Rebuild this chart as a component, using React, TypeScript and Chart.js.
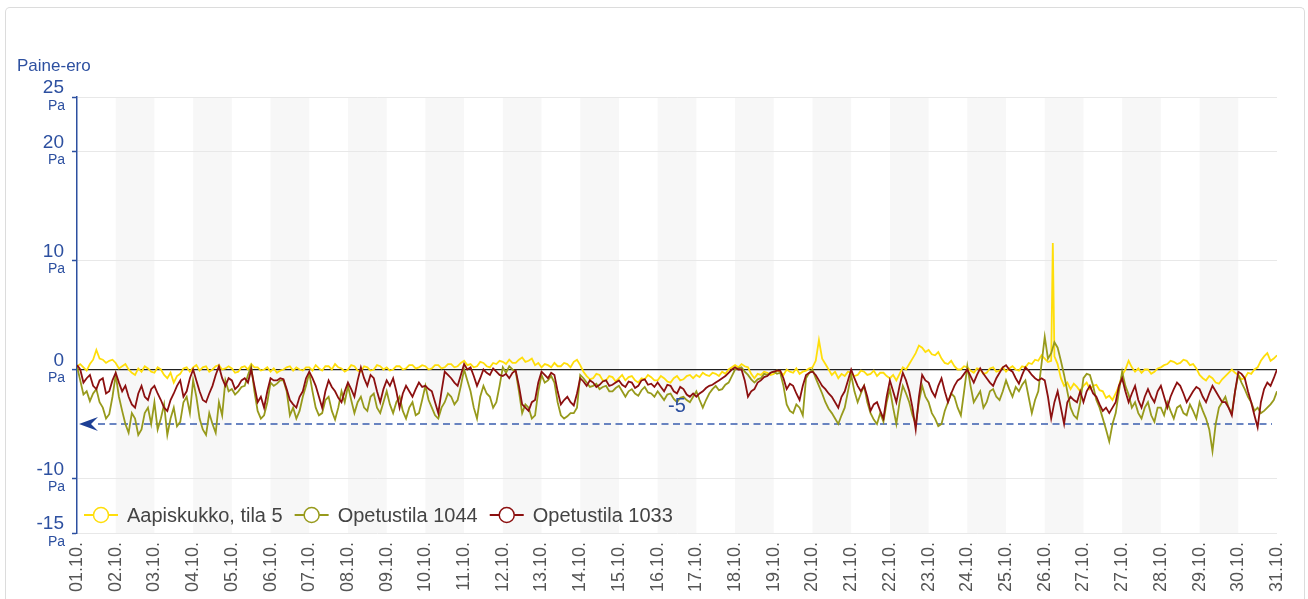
import React, { useEffect, useRef } from 'react';
import { Chart, registerables } from 'chart.js';

Chart.register(...registerables);

const FONT = '"Liberation Sans", Arial, Helvetica, sans-serif';
const BLUE = '#2d50a0';

// Day labels (27.10. appears twice: 25-hour day at the DST change)
const xLabels = [
  '01.10.', '02.10.', '03.10.', '04.10.', '05.10.', '06.10.', '07.10.', '08.10.',
  '09.10.', '10.10.', '11.10.', '12.10.', '13.10.', '14.10.', '15.10.', '16.10.',
  '17.10.', '18.10.', '19.10.', '20.10.', '21.10.', '22.10.', '23.10.', '24.10.',
  '25.10.', '26.10.', '27.10.', '27.10.', '28.10.', '29.10.', '30.10.', '31.10.',
];
const yTickValues = [25, 20, 10, 0, -10, -15];
const yUnit = 'Pa';
const axisTitle = 'Paine-ero';
const referenceValue = -5;
const HOURS_PER_SAMPLE = 2;
const HOURS_PER_LABEL = 24;

const seriesNames = ['Aapiskukko, tila 5', 'Opetustila 1044', 'Opetustila 1033'];
const seriesColors = ['#ffde0a', '#979a1c', '#8c1010'];

// one value every 2 hours, 12 per day
const aapiskukko = [
  0.3, 0.5, 0.2, -0.1, 0.5, 0.9, 1.8, 1.0, 0.9, 0.6, 0.8, 0.9,
  0.6, 0.1, 0.3, 0.5, 0.0, -0.3, -0.5, 0.1, -0.2, 0.3, 0.1, -0.2,
  -0.3, 0.2, 0.0, -0.5, -0.8, -0.3, -1.2, -0.6, -0.4, 0.1, 0.2, -0.2,
  0.2, 0.4, -0.1, 0.2, 0.3, -0.2, 0.0, 0.3, 0.4, 0.0, 0.1, 0.3,
  0.1, -0.3, -0.2, 0.2, 0.3, 0.0, 0.5, 0.2, 0.2, -0.1, 0.0, 0.2,
  -0.2, 0.1, -0.3, -0.1, 0.0, 0.2, 0.3, -0.1, 0.2, 0.0, -0.1, 0.2,
  0.2, -0.1, 0.4, 0.1, -0.1, 0.3, 0.3, 0.0, 0.5, 0.2, 0.1, -0.2,
  0.0, 0.4, 0.3, -0.1, -0.2, 0.3, 0.2, -0.1, 0.0, 0.4, 0.3, 0.0,
  0.2, -0.1, 0.0, 0.3, 0.3, 0.0, 0.1, 0.4, 0.4, 0.1, 0.2, 0.4,
  0.3, 0.0, 0.1, 0.4, 0.4, 0.1, 0.2, 0.5, 0.5, 0.2, 0.3, 0.6,
  0.8, 0.4, 0.5, 0.2, 0.3, 0.7, 0.6, 0.3, 0.2, 0.6, 0.5, 0.8,
  0.7, 0.5, 0.9, 0.6, 0.6, 0.9, 1.1, 0.7, 0.8, 1.0, 0.4, 0.6,
  0.2, 0.5, 0.4, 0.2, 0.6, 0.3, 0.3, 0.6, 0.5, 0.2, 0.7, 0.9,
  0.4, -0.2, -0.6, -0.9, -0.8, -0.4, -0.5, -1.0, -1.0, -0.6, -0.7, -1.1,
  -0.8, -0.5, -1.0, -0.7, -0.6, -1.0, -1.2, -0.8, -0.9, -0.5, -0.7, -1.0,
  -1.0, -0.6, -0.8, -1.1, -1.2, -0.8, -0.6, -1.0, -0.9, -0.6, -0.5, -0.8,
  -0.5, -0.7, -0.3, -0.5, -0.6, -0.3, -0.4, -0.6, -0.2, -0.4, 0.0, 0.2,
  0.4, 0.2, 0.5, 0.3, 0.2, -0.4, -0.8, -0.4, -0.5, -0.2, -0.3, -0.5,
  -0.4, -0.1, -0.2, -0.5, 0.0, -0.2, -0.3, 0.1, -0.4, -0.2, -0.1, 0.1,
  0.2, 0.8, 2.7, 1.0, 0.5, 0.0, -0.5, -0.2, -0.8, -0.4, -0.6, -0.2,
  -0.3, -0.6, -0.5, -0.1, -0.2, -0.5, -0.4, -0.1, -0.6, -0.3, -0.3, -0.6,
  -0.8, -0.5, -1.0, -0.4, 0.2, 0.0, 0.5, 1.0, 1.5, 2.2, 2.0, 1.6,
  1.8, 1.4, 1.3, 1.6, 1.0, 0.6, 0.5, 0.8, 0.3, 0.0, 0.0, 0.3,
  0.2, -0.1, -0.3, 0.1, 0.0, -0.4, -0.3, 0.1, 0.2, -0.2, -0.1, 0.2,
  -0.2, 0.1, 0.3, 0.0, -0.1, 0.3, 0.2, 0.6, 0.5, 0.9, 0.8, 1.3,
  1.0, 0.7, 0.8, 1.2, 0.5, -0.8, -1.5, -1.2, -1.8, -1.3, -1.6, -2.0,
  -1.5, -1.2, -1.8, -1.5, -1.4, -1.9, -2.0, -2.6, -2.4, -2.8, -2.2, -1.5,
  -0.5, 0.0, 0.8, 0.2, -0.2, 0.1, -0.3, 0.0, 0.0, -0.4, -0.2, 0.1,
  0.2, 0.4, 0.5, 0.8, 0.7, 0.5, 0.6, 0.9, 0.8, 0.4, 0.5, 0.1,
  -0.5, -0.8, -1.0, -0.6, -0.8, -1.2, -1.3, -0.9, -0.6, -0.3, 0.0, -0.3,
  -0.5, -0.9, -0.8, -0.3, -0.4, 0.0, 0.2, 0.8, 1.2, 1.5, 0.8, 1.0,
  1.3,
];
// short spike on 26.10. (hour, value)
const aapiskukkoSpikeHours = [605];
const aapiskukkoSpikeValues = [11.6];

const opetustila1044 = [
  0.3, -1.0, -2.3, -2.0, -2.9, -2.2, -1.8, -3.0, -3.5, -4.5, -4.1, -2.5,
  -0.5, -2.5, -3.8, -5.0, -5.8, -4.0, -4.5, -6.0, -5.5, -4.0, -3.5, -5.0,
  -3.0, -5.5, -4.5, -3.2, -6.0, -4.5, -3.5, -5.2, -4.8, -3.0, -2.5, -4.0,
  -1.0, -2.5, -4.5, -5.5, -6.0, -4.0, -5.0, -5.8, -3.0, -4.2, -1.0, -2.0,
  -1.8, -2.3, -2.0, -1.6, -1.5, -0.5, 0.3, -2.0, -3.8, -4.5, -4.2, -3.0,
  -1.2, -1.5, -1.3, -1.0, -1.0, -2.0, -4.2, -3.5, -4.5, -3.8, -2.5, -1.5,
  -0.3, -2.0, -3.5, -4.2, -4.0, -2.8, -2.5, -3.8, -4.6, -3.5, -2.0, -3.0,
  -1.5, -2.8, -4.0, -3.0, -2.5, -3.5, -3.8, -2.5, -2.2, -3.5, -4.0, -3.0,
  -2.0, -3.2, -4.0, -3.0, -2.5, -3.8, -4.5, -3.5, -3.0, -4.2, -4.0, -2.8,
  -1.5, -2.8, -3.5, -4.2, -4.5, -3.5, -3.0, -2.2, -2.5, -3.2, -2.8, -1.5,
  0.0, -1.0, -2.0, -3.5, -4.5, -2.5, -1.5, -2.2, -2.5, -3.5, -3.0, -1.5,
  0.2, -0.3, 0.3, 0.0, -0.2, -2.0, -4.0, -3.2, -3.5, -4.5, -4.2, -2.0,
  -0.5, -1.2, -1.0, -0.6, -1.2, -3.0, -4.2, -4.5, -4.3, -4.0, -4.0, -3.5,
  -0.5, -0.8, -1.2, -1.6, -1.5, -1.3, -1.8, -1.6, -1.5, -2.0, -2.0, -1.7,
  -1.5, -2.0, -2.5, -2.0, -1.8, -2.2, -2.4, -1.9, -1.6, -2.1, -2.2, -2.5,
  -2.0, -2.4, -2.8, -2.3, -2.2, -2.7, -3.0, -2.6, -2.5, -2.8, -3.0, -2.5,
  -2.0, -2.8, -3.5, -2.8, -2.2, -1.8, -1.5, -1.9, -1.8, -1.4, -1.2, -0.6,
  0.0, 0.1, 0.2, -0.2, -0.5, -0.9, -1.2, -0.9, -0.8, -0.4, -0.5, -0.3,
  -0.2, -0.4, -0.3, -1.5, -3.2, -3.8, -4.0, -3.2, -3.5, -4.2, -0.8, -0.3,
  0.0, -0.8, -1.5, -2.2, -3.0, -3.6, -4.0, -4.5, -5.0, -4.2, -3.5, -2.0,
  -0.5, -2.0, -3.0, -2.2, -1.5, -3.0, -4.0, -4.6, -5.0, -4.0, -4.8, -3.0,
  -1.8, -3.5, -5.0, -3.0, -1.5, -2.2, -3.0, -4.2, -5.0, -3.0, -1.5, -2.5,
  -3.0, -4.0, -4.5, -5.2, -5.0, -3.8, -3.0, -2.2, -2.5, -3.5, -4.2, -2.0,
  0.3, -1.5, -3.0, -2.5, -2.0, -3.5, -3.0, -2.0, -1.8, -2.5, -2.8, -2.0,
  -1.0, -1.8, -2.5, -1.6, -2.0, -1.4, -1.0, -2.5, -4.0, -2.8, -2.0, 0.5,
  3.0, 1.0, 1.5, 2.5, 2.0, 0.8, -0.5, -2.0, -3.5, -4.2, -4.5, -3.0,
  -0.8, -0.4, -0.5, -1.5, -2.8, -3.5, -4.5, -5.5, -6.6, -5.0, -4.0, -2.0,
  -0.2, -1.5, -2.3, -3.5, -3.0, -4.0, -4.5, -3.5, -3.0, -4.2, -4.8, -3.5,
  -3.5, -4.2, -3.0, -3.8, -4.5, -3.5, -3.3, -4.0, -4.2, -3.2, -3.8, -4.5,
  -3.0, -3.8, -4.5, -5.5, -7.5, -5.0, -3.5, -3.0, -2.5, -3.5, -4.0, -2.0,
  -0.5, -1.2, -1.8, -2.5, -3.0, -3.8, -3.5, -4.0, -3.8, -3.5, -3.2, -2.8,
  -2.0,
];

const opetustila1033 = [
  0.4, 0.0, -1.2, -0.8, -0.5, -1.5, -1.8, -1.0, -0.8, -2.2, -2.0, -1.0,
  -0.3, -1.2, -2.0, -1.5, -2.5, -3.2, -3.5, -2.2, -1.5, -2.5, -2.8, -1.8,
  -1.5, -2.2, -2.8, -3.5, -3.8, -2.8, -2.2, -1.5, -1.0, -2.5, -2.0, -0.8,
  0.0, -1.0, -2.0, -2.8, -3.0, -2.2, -1.5, -0.5, 0.3, -0.8, -1.5, -0.8,
  -1.0, -1.8, -1.5, -1.0, -0.8, -1.2, 0.0, -1.5, -3.0, -2.5, -3.5, -2.0,
  -0.8, -1.0, -1.0, -0.8, -0.9, -1.8, -2.8, -3.2, -3.5, -2.5, -2.0, -0.8,
  -0.2, -0.8, -1.5, -2.5, -3.5, -2.0, -1.0, -1.6, -2.0, -2.6, -3.0, -2.0,
  -1.2, -1.8, -2.5, -1.0, 0.2, -0.8, -1.5, -0.5, -0.8, -2.0, -3.0, -1.8,
  -1.0, -1.5, -0.8, -2.0, -3.5, -2.2, -1.5, -2.0, -2.5, -1.8, -1.2, -1.6,
  -1.5, -1.8, -2.0, -3.0, -4.0, -2.0, -0.2, -0.5, -0.8, -1.2, -1.5, -0.5,
  0.5, 0.0, 0.2, -0.6, -1.5, -0.8, 0.0, -0.3, -0.5, 0.1, -0.2, -0.5,
  -0.6, -0.4, -0.8, -0.3, -0.1, -1.5, -3.2, -3.5, -3.8, -3.0, -2.8, -1.2,
  -0.2, -0.5, -0.8, -0.3, -0.5, -2.0, -3.2, -2.8, -2.5, -3.0, -3.3, -2.2,
  -0.8, -1.1, -1.5, -1.0, -1.2, -1.6, -1.4, -1.1, -1.0, -1.5, -1.4, -1.2,
  -1.0, -1.4, -1.6, -1.1, -1.2, -1.7, -1.5, -1.0, -0.9, -1.4, -1.3, -1.6,
  -1.2, -1.6, -2.0, -1.4, -1.5, -2.0, -2.2, -1.6, -1.8, -2.3, -2.5, -2.2,
  -2.5, -2.2, -2.0, -1.7, -1.5, -1.4, -1.2, -1.0, -0.8, -0.6, -0.3, 0.0,
  0.2, 0.0, 0.0, -1.0, -2.5, -2.0, -1.8, -1.2, -1.0, -0.7, -0.6, -0.3,
  -0.2, -0.1, -0.1, -0.8, -1.8, -1.3, -1.5, -2.2, -2.8, -1.5, -0.5, -0.3,
  -0.2, -0.5, -1.0, -1.5, -1.8, -2.2, -2.5, -3.0, -3.5, -2.5, -2.0, -1.0,
  0.0, -0.8, -1.5, -2.0, -1.5, -2.5, -3.8, -3.2, -3.0, -3.8, -4.5, -2.5,
  -1.0, -2.0, -3.0, -1.5, -0.3, -1.0, -2.0, -3.5, -5.5, -2.5, -0.5, -1.0,
  -1.2, -2.0, -2.5, -1.5, -0.8, -2.0, -3.0, -2.2, -1.5, -1.0, -0.8, -0.4,
  0.0, -0.6, -1.2, -0.5, 0.1, -0.4, -0.8, -1.2, -1.5, -0.8, -0.3, 0.2,
  0.4, 0.0, -0.2, -0.8, -1.3, -0.5, 0.2, -0.1, -0.5, -0.8, -1.0, -0.8,
  -1.0, -2.5, -4.5, -3.0, -2.0, -3.5, -5.0, -3.0, -2.5, -2.8, -3.0, -2.0,
  -3.0, -2.0, -1.5, -2.2, -2.5, -3.2, -3.8, -3.5, -4.0, -3.5, -3.0, -1.5,
  -0.8, -2.0, -3.0, -2.2, -1.5, -2.8, -3.5, -2.5, -1.8, -2.5, -3.0, -2.0,
  -1.5, -2.5, -3.5, -2.5, -1.8, -1.2, -1.5, -2.2, -3.0, -2.5, -2.0, -1.6,
  -1.8, -2.5, -3.0, -2.2, -1.5, -2.0, -2.5, -3.0, -3.0, -3.5, -4.2, -2.0,
  -0.2, -0.4, -0.8, -2.0, -3.0, -4.2, -5.3, -3.0, -1.8, -1.2, -1.5, -0.8,
  0.0,
];

function toPoints(values: number[]) {
  return values.map((v, i) => ({ x: i * HOURS_PER_SAMPLE, y: v }));
}

function withExtra(values: number[], hours: number[], extra: number[]) {
  const pts = toPoints(values).concat(hours.map((h, i) => ({ x: h, y: extra[i] })));
  return pts.sort((a, b) => a.x - b.x);
}

const decorPlugin = {
  id: 'decor',
  beforeDraw(chart: any) {
    const { ctx, chartArea: a, scales } = chart;
    const x = scales.x;
    ctx.save();
    ctx.fillStyle = '#f7f7f7';
    for (let i = 1; i < xLabels.length - 1; i += 2) {
      const x0 = x.getPixelForValue(i * HOURS_PER_LABEL);
      const x1 = x.getPixelForValue((i + 1) * HOURS_PER_LABEL);
      ctx.fillRect(x0, a.top, x1 - x0, a.bottom - a.top);
    }
    ctx.restore();
  },
  beforeDatasetsDraw(chart: any) {
    const { ctx, chartArea: a, scales } = chart;
    const y = scales.y.getPixelForValue(referenceValue);
    ctx.save();
    ctx.strokeStyle = '#3a5eae';
    ctx.lineWidth = 1.3;
    ctx.setLineDash([7, 4.5]);
    ctx.beginPath();
    ctx.moveTo(a.left + 21, y);
    ctx.lineTo(a.right - 5, y);
    ctx.stroke();
    ctx.setLineDash([]);
    ctx.fillStyle = '#1d3f94';
    ctx.beginPath();
    ctx.moveTo(a.left + 2, y);
    ctx.lineTo(a.left + 21, y - 7);
    ctx.lineTo(a.left + 14, y);
    ctx.lineTo(a.left + 21, y + 7);
    ctx.closePath();
    ctx.fill();
    ctx.restore();
  },
  afterDraw(chart: any) {
    const { ctx, chartArea: a, scales } = chart;
    ctx.save();
    // reference line label
    const yRef = scales.y.getPixelForValue(referenceValue);
    ctx.fillStyle = BLUE;
    ctx.font = `20px ${FONT}`;
    ctx.textAlign = 'center';
    ctx.textBaseline = 'middle';
    ctx.fillText(String(referenceValue), (a.left + a.right) / 2, yRef - 18);
    // unit under each y tick label
    ctx.font = `14px ${FONT}`;
    ctx.textAlign = 'right';
    ctx.textBaseline = 'top';
    scales.y.ticks.forEach((t: any) => {
      const py = scales.y.getPixelForValue(t.value);
      ctx.fillText(yUnit, a.left - 12, py + 2);
    });
    // axis title
    ctx.font = `17px ${FONT}`;
    ctx.textAlign = 'left';
    ctx.textBaseline = 'middle';
    ctx.fillText(axisTitle, 11, 58);
    // legend inside the plot area
    const ly = a.bottom - 18;
    let lx = a.left + 7;
    ctx.font = `20px ${FONT}`;
    chart.data.datasets.forEach((ds: any) => {
      ctx.strokeStyle = ds.borderColor;
      ctx.lineWidth = 2;
      ctx.beginPath();
      ctx.moveTo(lx, ly);
      ctx.lineTo(lx + 34, ly);
      ctx.stroke();
      ctx.beginPath();
      ctx.arc(lx + 17, ly, 7.5, 0, Math.PI * 2);
      ctx.fillStyle = '#ffffff';
      ctx.fill();
      ctx.lineWidth = 1.5;
      ctx.stroke();
      ctx.fillStyle = '#444444';
      ctx.fillText(ds.label, lx + 43, ly + 1);
      lx += 43 + ctx.measureText(ds.label).width + 12;
    });
    ctx.restore();
  },
};

export default function App() {
  const ref = useRef<HTMLCanvasElement | null>(null);
  useEffect(() => {
    if (!ref.current) return;
    const datasets = [
      { label: seriesNames[0], data: withExtra(aapiskukko, aapiskukkoSpikeHours, aapiskukkoSpikeValues), borderColor: seriesColors[0], order: 3 },
      { label: seriesNames[1], data: toPoints(opetustila1044), borderColor: seriesColors[1], order: 2 },
      { label: seriesNames[2], data: toPoints(opetustila1033), borderColor: seriesColors[2], order: 1 },
    ].map((d) => ({ ...d, borderWidth: 1.8, pointRadius: 0, tension: 0, fill: false }));

    const chart = new Chart(ref.current, {
      type: 'line',
      data: { datasets },
      plugins: [decorPlugin],
      options: {
        animation: false,
        responsive: false,
        layout: { padding: { top: 89, right: 27, left: 0, bottom: 0 } },
        plugins: { legend: { display: false }, tooltip: { enabled: false } },
        scales: {
          x: {
            type: 'linear',
            min: 0,
            max: (xLabels.length - 1) * HOURS_PER_LABEL,
            afterBuildTicks: (s: any) => {
              s.ticks = xLabels.map((_, i) => ({ value: i * HOURS_PER_LABEL }));
            },
            afterFit: (s: any) => {
              s.height = 66;
              s.paddingLeft = 0;
              s.paddingRight = 0;
            },
            grid: { display: false, drawTicks: false },
            border: { display: false },
            ticks: {
              autoSkip: false,
              minRotation: 90,
              maxRotation: 90,
              padding: 9,
              color: '#555555',
              font: { family: FONT, size: 18 },
              callback: (_v: any, i: number) => xLabels[i],
            },
          },
          y: {
            type: 'linear',
            min: -15,
            max: 25,
            afterBuildTicks: (s: any) => {
              s.ticks = yTickValues.map((v) => ({ value: v }));
            },
            afterFit: (s: any) => { s.width = 71; },
            border: { display: true, color: BLUE, width: 1.5 },
            grid: {
              color: (c: any) => (c.tick && c.tick.value === 0 ? '#222222' : '#e8e8e8'),
              lineWidth: (c: any) => (c.tick && c.tick.value === 0 ? 1.2 : 1),
              tickColor: BLUE,
              tickLength: 5,
              tickWidth: 1.5,
            },
            ticks: {
              padding: 8,
              labelOffset: -9,
              color: BLUE,
              font: { family: FONT, size: 19 },
              callback: (v: any) => String(v),
            },
          },
        },
      } as any,
    });
    return () => chart.destroy();
  }, []);

  return (
    <div
      style={{
        position: 'absolute',
        left: 5,
        top: 7,
        width: 1300,
        height: 592,
        boxSizing: 'border-box',
        border: '1px solid #dcdcdc',
        borderBottom: 'none',
        borderRadius: '5px 5px 0 0',
        background: '#ffffff',
        overflow: 'hidden',
      }}
    >
      <canvas ref={ref} width={1298} height={591} style={{ display: 'block' }} />
    </div>
  );
}
